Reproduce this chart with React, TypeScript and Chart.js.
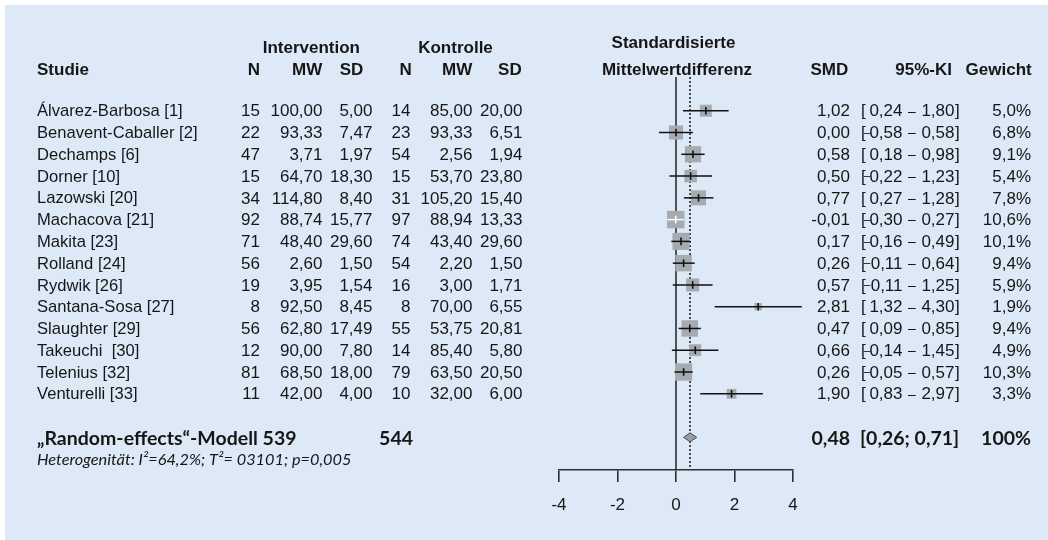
import React, { useEffect, useRef } from "react";
import { Chart, registerables } from "chart.js";

Chart.register(...registerables);

// ---------- data ----------
const studies = [
  "Álvarez-Barbosa [1]",
  "Benavent-Caballer [2]",
  "Dechamps [6]",
  "Dorner [10]",
  "Lazowski [20]",
  "Machacova [21]",
  "Makita [23]",
  "Rolland [24]",
  "Rydwik [26]",
  "Santana-Sosa [27]",
  "Slaughter [29]",
  "Takeuchi  [30]",
  "Telenius [32]",
  "Venturelli [33]",
];
const interventionN = [15, 22, 47, 15, 34, 92, 71, 56, 19, 8, 56, 12, 81, 11];
const interventionMW = [100.0, 93.33, 3.71, 64.7, 114.8, 88.74, 48.4, 2.6, 3.95, 92.5, 62.8, 90.0, 68.5, 42.0];
const interventionSD = [5.0, 7.47, 1.97, 18.3, 8.4, 15.77, 29.6, 1.5, 1.54, 8.45, 17.49, 7.8, 18.0, 4.0];
const controlN = [14, 23, 54, 15, 31, 97, 74, 54, 16, 8, 55, 14, 79, 10];
const controlMW = [85.0, 93.33, 2.56, 53.7, 105.2, 88.94, 43.4, 2.2, 3.0, 70.0, 53.75, 85.4, 63.5, 32.0];
const controlSD = [20.0, 6.51, 1.94, 23.8, 15.4, 13.33, 29.6, 1.5, 1.71, 6.55, 20.81, 5.8, 20.5, 6.0];
const smd = [1.02, 0.0, 0.58, 0.5, 0.77, -0.01, 0.17, 0.26, 0.57, 2.81, 0.47, 0.66, 0.26, 1.9];
const ciLow = [0.24, -0.58, 0.18, -0.22, 0.27, -0.3, -0.16, -0.11, -0.11, 1.32, 0.09, -0.14, -0.05, 0.83];
const ciHigh = [1.8, 0.58, 0.98, 1.23, 1.28, 0.27, 0.49, 0.64, 1.25, 4.3, 0.85, 1.45, 0.57, 2.97];
const weights = [5.0, 6.8, 9.1, 5.4, 7.8, 10.6, 10.1, 9.4, 5.9, 1.9, 9.4, 4.9, 10.3, 3.3];

const pooledEstimate = 0.48;
const pooledLow = 0.26;
const pooledHigh = 0.71;
const pooledWeight = "100%";
const totalIntervention = 539;
const totalControl = 544;
const summaryLabel = "„Random-effects“-Modell";
const heterogeneityText = "Heterogenität: I²=64,2%; T²= 03101; p=0,005";
const nullEffect = 0;
const xTicks = [-4, -2, 0, 2, 4];

// ---------- layout / style ----------
const W = 1048;
const H = 540;
const Y_MIN = -1.55;
const Y_MAX = 16.5;
const ROW_SUMMARY = studies.length + 1;
const ROW_HET = 15.97;
const ROW_GROUP = -2.93;
const ROW_TITLE1 = -3.13;
const ROW_COLHEAD = -1.9;
const BOX_SCALE = 5.37;
const INK = "#161616";
const BOX = "#a6abb1";

const SANS = '"Liberation Sans", Arimo, Arial, sans-serif';
const F_NAME = "16.6px " + SANS;
const F_REG = "17px " + SANS;
const F_BOLD = "bold 17px " + SANS;
const F_SUM = "bold 19.5px Lato, sans-serif";
const F_HET = "italic 16.3px Lato, sans-serif";
const F_DASH_SMALL = "12px " + SANS;
const F_DASH = "14px " + SANS;

const fmt2 = (v: number) => v.toFixed(2).replace(".", ",");
const fmtAbs = (v: number) => Math.abs(v).toFixed(2).replace(".", ",");
const fmtW = (v: number) => v.toFixed(1).replace(".", ",") + "%";
const boxSide = (w: number) => BOX_SCALE * Math.sqrt(w);

function ciInsideBox(chart: any, i: number) {
  const xs = chart.scales.x;
  if (!xs) return false;
  const w = Math.abs(xs.getPixelForValue(ciHigh[i]) - xs.getPixelForValue(ciLow[i]));
  return w < boxSide(weights[i]);
}

function put(ctx: CanvasRenderingContext2D, s: string, x: number, y: number, align: CanvasTextAlign, font: string) {
  ctx.font = font;
  ctx.textAlign = align;
  ctx.fillText(s, x, y);
}

const diamondPlugin = {
  id: "pooledDiamond",
  afterDatasetsDraw(chart: any) {
    const { ctx } = chart;
    const xs = chart.scales.x;
    const ys = chart.scales.y;
    const yc = ys.getPixelForValue(ROW_SUMMARY);
    const h = 4.5;
    ctx.save();
    ctx.beginPath();
    ctx.moveTo(xs.getPixelForValue(pooledLow), yc);
    ctx.lineTo(xs.getPixelForValue(pooledEstimate), yc - h);
    ctx.lineTo(xs.getPixelForValue(pooledHigh), yc);
    ctx.lineTo(xs.getPixelForValue(pooledEstimate), yc + h);
    ctx.closePath();
    ctx.fillStyle = "#9a9ea4";
    ctx.fill();
    ctx.strokeStyle = "#4a4a4a";
    ctx.lineWidth = 1;
    ctx.stroke();
    ctx.restore();
  },
};

const textPlugin = {
  id: "forestText",
  afterDraw(chart: any) {
    const { ctx } = chart;
    const ys = chart.scales.y;
    const yAt = (r: number) => ys.getPixelForValue(r) + 1;
    ctx.save();
    ctx.fillStyle = INK;
    ctx.textBaseline = "middle";

    // headers
    put(ctx, "Intervention", 311.3, yAt(ROW_GROUP), "center", F_BOLD);
    put(ctx, "Kontrolle", 455.5, yAt(ROW_GROUP), "center", F_BOLD);
    put(ctx, "Standardisierte", 673.5, yAt(ROW_TITLE1), "center", F_BOLD);
    const yh = yAt(ROW_COLHEAD);
    put(ctx, "Studie", 37, yh, "left", F_BOLD);
    put(ctx, "N", 260, yh, "right", F_BOLD);
    put(ctx, "MW", 322.3, yh, "right", F_BOLD);
    put(ctx, "SD", 363.3, yh, "right", F_BOLD);
    put(ctx, "N", 411.7, yh, "right", F_BOLD);
    put(ctx, "MW", 472.3, yh, "right", F_BOLD);
    put(ctx, "SD", 521.7, yh, "right", F_BOLD);
    put(ctx, "Mittelwertdifferenz", 677, yh, "center", F_BOLD);
    put(ctx, "SMD", 848.3, yh, "right", F_BOLD);
    put(ctx, "95%-KI", 952, yh, "right", F_BOLD);
    put(ctx, "Gewicht", 1031.7, yh, "right", F_BOLD);

    // study rows
    studies.forEach((name, i) => {
      const y = yAt(i);
      put(ctx, name, 37, y, "left", F_NAME);
      put(ctx, String(interventionN[i]), 260, y, "right", F_REG);
      put(ctx, fmt2(interventionMW[i]), 322.5, y, "right", F_REG);
      put(ctx, fmt2(interventionSD[i]), 372.5, y, "right", F_REG);
      put(ctx, String(controlN[i]), 410.5, y, "right", F_REG);
      put(ctx, fmt2(controlMW[i]), 472.5, y, "right", F_REG);
      put(ctx, fmt2(controlSD[i]), 522.5, y, "right", F_REG);
      put(ctx, fmt2(smd[i]), 850, y, "right", F_REG);
      put(ctx, "[", 861, y, "left", F_REG);
      if (ciLow[i] < 0) put(ctx, "–", 867, y, "center", F_DASH_SMALL);
      put(ctx, fmtAbs(ciLow[i]), 902.5, y, "right", F_REG);
      put(ctx, "–", 912, y, "center", F_DASH);
      put(ctx, fmt2(ciHigh[i]), 954.5, y, "right", F_REG);
      put(ctx, "]", 955, y, "left", F_REG);
      put(ctx, fmtW(weights[i]), 1031, y, "right", F_REG);
    });

    // summary
    const ys2 = yAt(ROW_SUMMARY);
    put(ctx, summaryLabel + " " + totalIntervention, 37, ys2, "left", F_SUM);
    put(ctx, String(totalControl), 413, ys2, "right", F_SUM);
    put(ctx, fmt2(pooledEstimate), 850, ys2, "right", F_SUM);
    put(ctx, "[" + fmt2(pooledLow) + "; " + fmt2(pooledHigh) + "]", 860, ys2, "left", F_SUM);
    put(ctx, pooledWeight, 1031, ys2, "right", F_SUM);
    put(ctx, heterogeneityText, 37, yAt(ROW_HET), "left", F_HET);
    ctx.restore();
  },
};

export default function App() {
  const canvasRef = useRef<HTMLCanvasElement | null>(null);

  useEffect(() => {
    const canvas = canvasRef.current;
    if (!canvas) return;

    const points = smd.map((v, i) => ({ x: v, y: i }));

    const ciSets = studies.map((_, i) => ({
      label: "ci" + i,
      data: [
        { x: ciLow[i], y: i },
        { x: ciHigh[i], y: i },
      ],
      showLine: true,
      pointRadius: 0,
      borderWidth: 1.5,
      borderColor: (c: any) => (ciInsideBox(c.chart, i) ? "#ffffff" : "#111111"),
      clip: false,
      order: 1,
    }));

    const chart = new Chart(canvas, {
      type: "scatter",
      data: {
        datasets: [
          {
            label: "estimate",
            data: points,
            pointStyle: "line",
            rotation: 90,
            pointRadius: 3.8,
            pointBorderWidth: 1.6,
            pointBorderColor: (c: any) => (ciInsideBox(c.chart, c.dataIndex) ? "#ffffff" : "#111111"),
            clip: false,
            order: 0,
          } as any,
          ...ciSets,
          {
            label: "weight",
            data: points,
            pointStyle: "rect",
            pointRadius: weights.map((w) => boxSide(w) / Math.SQRT2),
            pointBackgroundColor: BOX,
            pointBorderWidth: 0,
            clip: false,
            order: 2,
          },
          {
            label: "null",
            data: [
              { x: nullEffect, y: Y_MIN },
              { x: nullEffect, y: Y_MAX },
            ],
            showLine: true,
            pointRadius: 0,
            borderColor: "#2e2e2e",
            borderWidth: 1.6,
            order: 3,
          },
          {
            label: "pooled",
            data: [
              { x: pooledEstimate, y: Y_MIN },
              { x: pooledEstimate, y: Y_MAX },
            ],
            showLine: true,
            pointRadius: 0,
            borderColor: "#3a3a3a",
            borderWidth: 1.8,
            borderDash: [2, 2],
            order: 3,
          },
        ] as any,
      },
      options: {
        responsive: false,
        animation: false,
        events: [],
        layout: { padding: { left: 559, right: W - 793, top: 77, bottom: 30 } },
        plugins: { legend: { display: false }, tooltip: { enabled: false } },
        scales: {
          x: {
            type: "linear",
            min: -4,
            max: 4,
            afterBuildTicks: (s: any) => {
              s.ticks = xTicks.map((v) => ({ value: v }));
            },
            afterFit: (s: any) => {
              s.height = 40;
            },
            ticks: {
              color: INK,
              padding: 13,
              font: { family: SANS, size: 17 },
              callback: (v: any) => String(v),
            },
            grid: {
              display: true,
              drawOnChartArea: false,
              drawTicks: true,
              tickLength: 12,
              color: "#2e2e2e",
              lineWidth: 1.6,
            },
            border: { display: true, color: "#2e2e2e", width: 1.6 },
          },
          y: {
            type: "linear",
            display: false,
            reverse: true,
            min: Y_MIN,
            max: Y_MAX,
          },
        },
      } as any,
      plugins: [diamondPlugin, textPlugin],
    });

    return () => chart.destroy();
  }, []);

  return (
    <div style={{ position: "absolute", left: 0, top: 0, width: W, height: H, background: "#ffffff" }}>
      <div style={{ position: "absolute", left: 5, top: 5, width: W - 5, height: H - 5, background: "#dde9f7" }} />
      <canvas
        ref={canvasRef}
        width={W}
        height={H}
        style={{ position: "absolute", left: 0, top: 0, width: W, height: H }}
      />
    </div>
  );
}
